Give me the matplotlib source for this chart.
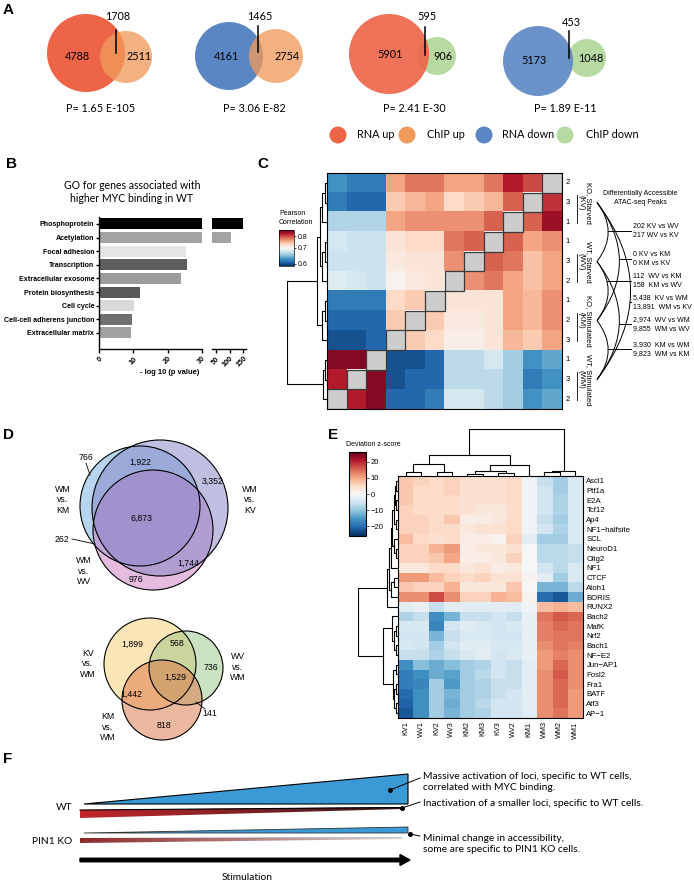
import matplotlib
matplotlib.use('Agg')
import matplotlib.pyplot as plt
import numpy as np
from matplotlib.patches import Circle, Polygon, Rectangle, PathPatch, FancyArrow
from matplotlib.path import Path
from matplotlib.colors import TwoSlopeNorm, Normalize, LinearSegmentedColormap
from matplotlib.cm import ScalarMappable

W, H = 694, 882
CAL = ['Lato', 'DejaVu Sans']
ARI = ['Liberation Sans', 'DejaVu Sans']
NAR = ['Liberation Sans Narrow', 'Liberation Sans', 'DejaVu Sans']
nan = np.nan

# ---------------- A: RNA-seq / ChIP-seq overlaps ----------------
venn_a_left = [4788, 4161, 5901, 5173]
venn_a_right = [2511, 2754, 906, 1048]
venn_a_both = [1708, 1465, 595, 453]
venn_a_pval = ['P= 1.65 E-105', 'P= 3.06 E-82', 'P= 2.41 E-30', 'P= 1.89 E-11']
venn_a_sets = [('RNA up', 'ChIP up'), ('RNA down', 'ChIP up'),
               ('RNA up', 'ChIP down'), ('RNA down', 'ChIP down')]
legend_a = ['RNA up', 'ChIP up', 'RNA down', 'ChIP down']
colors_a = {'RNA up': '#EE6446', 'ChIP up': '#F09A5C',
            'RNA down': '#5B86C4', 'ChIP down': '#B7D9A2'}

# ---------------- B: GO terms ----------------
go_terms = ['Phosphoprotein', 'Acetylation', 'Focal adhesion', 'Transcription',
            'Extracellular exosome', 'Protein biosynthesis', 'Cell cycle',
            'Cell-cell adherens junction', 'Extracellular matrix']
go_logp = [150, 105, 25.4, 25.6, 24.0, 11.8, 10.2, 9.7, 9.4]
go_colors = ['#000000', '#A3A3A3', '#E6E6E6', '#5E5E5E', '#9C9C9C',
             '#5A5A5A', '#D9D9D9', '#707070', '#A0A0A0']

# ---------------- C: Pearson correlation ----------------
c_rows = ['KV2', 'KV3', 'KV1', 'WV1', 'WV3', 'WV2', 'KM1', 'KM2', 'KM3', 'WM1', 'WM3', 'WM2']
c_row_num = ['2', '3', '1', '1', '3', '2', '1', '2', '3', '1', '3', '2']
c_groups = ['KO, Starved\n(KV)', 'WT, Starved\n(WV)', 'KO, Stimulated\n(KM)', 'WT, Stimulated\n(WM)']
c_corr = [
    [0.63, 0.62, 0.62, 0.76, 0.78, 0.78, 0.76, 0.76, 0.78, 0.82, 0.80, nan],
    [0.62, 0.61, 0.61, 0.74, 0.75, 0.76, 0.73, 0.74, 0.75, 0.79, nan, 0.81],
    [0.665, 0.665, 0.665, 0.76, 0.77, 0.77, 0.77, 0.77, 0.79, nan, 0.79, 0.83],
    [0.68, 0.675, 0.675, 0.72, 0.73, 0.73, 0.78, 0.79, nan, 0.79, 0.76, 0.77],
    [0.675, 0.675, 0.675, 0.715, 0.72, 0.72, 0.77, nan, 0.79, 0.78, 0.745, 0.76],
    [0.685, 0.68, 0.675, 0.705, 0.715, 0.72, nan, 0.77, 0.78, 0.76, 0.745, 0.76],
    [0.62, 0.62, 0.62, 0.73, 0.74, nan, 0.72, 0.72, 0.72, 0.76, 0.75, 0.77],
    [0.61, 0.61, 0.61, 0.74, nan, 0.74, 0.715, 0.715, 0.72, 0.76, 0.75, 0.77],
    [0.60, 0.60, 0.61, nan, 0.74, 0.73, 0.71, 0.71, 0.72, 0.75, 0.74, 0.76],
    [0.84, 0.84, nan, 0.60, 0.60, 0.61, 0.67, 0.67, 0.68, 0.66, 0.63, 0.64],
    [0.82, nan, 0.84, 0.60, 0.61, 0.61, 0.67, 0.67, 0.67, 0.66, 0.62, 0.63],
    [nan, 0.82, 0.84, 0.61, 0.61, 0.62, 0.68, 0.68, 0.67, 0.66, 0.63, 0.64],
]
# (child a, child b, height) ; new node ids start after the leaves
c_row_merges = [(0, 1, 0.05), (12, 2, 0.12), (3, 4, 0.05), (14, 5, 0.12), (13, 15, 0.18),
                (6, 7, 0.05), (17, 8, 0.12), (16, 18, 0.25), (9, 10, 0.05), (20, 11, 0.1),
                (19, 21, 1.0)]
c_pairs = [(0, 1), (0, 2), (1, 2), (0, 3), (1, 3), (2, 3)]
c_pair_text = [('202 KV vs WV', '217 WV vs KV'), ('0 KV vs KM', '0 KM vs KV'),
               ('112  WV vs KM', '158  KM vs WV'), ('5,438  KV vs WM', '13,891  WM vs KV'),
               ('2,974  WV vs WM', '9,855  WM vs WV'), ('3,930  KM vs WM', '9,823  WM vs KM')]

# ---------------- D: Venn of differential peaks ----------------
d_top_sets = ['WM\nvs.\nKV', 'WM\nvs.\nKM', 'WM\nvs.\nWV']
d_top_counts = ['766', '1,922', '3,352', '6,873', '262', '1,744', '976']
d_bot_sets = ['KV\nvs.\nWM', 'WV\nvs.\nWM', 'KM\nvs.\nWM']
d_bot_counts = ['1,899', '568', '736', '1,529', '1,442', '141', '818']

# ---------------- E: chromVAR deviation z-scores ----------------
e_cols = ['KV1', 'WV1', 'KV2', 'WV3', 'KM2', 'KM3', 'KV3', 'WV2', 'KM1', 'WM3', 'WM2', 'WM1']
e_rows = ['Ascl1', 'Ptf1a', 'E2A', 'Tcf12', 'Ap4', 'NF1\u2212halfsite', 'SCL', 'NeuroD1',
          'Olig2', 'NF1', 'CTCF', 'Atoh1', 'BORIS', 'RUNX2', 'Bach2', 'MafK', 'Nrf2',
          'Bach1', 'NF\u2212E2', 'Jun\u2212AP1', 'Fosl2', 'Fra1', 'BATF', 'Atf3', 'AP\u22121']
e_z = [
    [7, 6, 5, 6, 4, 4, 4, 5, -1, -6, -9, -4],
    [7, 5, 5, 6, 4, 4, 4, 5, -1, -5, -9, -4],
    [7, 5, 5, 5, 4, 4, 4, 5, -1, -5, -8, -4],
    [6, 5, 5, 5, 4, 3, 3, 5, -1, -5, -8, -4],
    [6, 6, 5, 7, 2, 2, 3, 5, -1, -6, -9, -4],
    [6, 6, 5, 5, 3, 4, 4, 5, -1, -5, -8, -4],
    [8, 5, 4, 5, 2, 2, 1, 6, -3, -9, -9, -4],
    [6, 6, 9, 11, 2, 3, 3, 4, 0, -7, -7, -6],
    [6, 6, 7, 10, 2, 2, 3, 6, 0, -7, -7, -6],
    [3, 3, 5, 5, 3, 4, 2, 3, 0, -5, -7, -4],
    [11, 11, 8, 6, 5, 6, 4, 4, 1, -3, -9, -4],
    [7, 6, 6, 9, 3, 3, 3, 7, 0, -12, -12, -7],
    [12, 12, 17, 12, 6, 6, 9, 8, 1, -20, -22, -13],
    [-3, -2, -6, -3, -3, -3, -3, -3, -1, 8, 9, 8],
    [-8, -6, -16, -12, -6, -6, -5, -6, -2, 14, 16, 15],
    [-4, -4, -17, -5, -3, -4, -5, -4, -2, 13, 15, 14],
    [-5, -5, -12, -6, -4, -4, -5, -5, -2, 13, 14, 14],
    [-4, -5, -9, -5, -3, -3, -4, -4, -2, 12, 14, 13],
    [-6, -6, -8, -6, -4, -3, -5, -4, -2, 11, 13, 12],
    [-16, -11, -13, -11, -9, -8, -5, -6, -3, 11, 15, 12],
    [-18, -16, -13, -14, -9, -7, -5, -6, -3, 12, 16, 12],
    [-18, -17, -9, -15, -9, -8, -6, -6, -3, 12, 15, 12],
    [-20, -16, -9, -12, -9, -8, -6, -5, -3, 12, 15, 11],
    [-21, -16, -9, -13, -9, -7, -5, -5, -3, 12, 15, 11],
    [-22, -16, -9, -12, -9, -8, -5, -5, -3, 12, 14, 11],
]
e_col_merges = [(0, 1, 0.08), (2, 3, 0.09), (12, 13, 0.26), (4, 5, 0.05), (6, 7, 0.07),
                (15, 16, 0.11), (17, 8, 0.23), (14, 18, 0.45), (9, 10, 0.08), (20, 11, 0.11),
                (19, 21, 1.0)]
e_row_merges = [(0, 1, 0.04), (2, 3, 0.05), (25, 26, 0.08), (4, 5, 0.05), (27, 28, 0.11),
                (7, 8, 0.05), (6, 30, 0.09), (29, 31, 0.14), (32, 9, 0.17), (10, 11, 0.1),
                (34, 12, 0.18), (33, 35, 0.22), (36, 13, 0.28), (15, 16, 0.05), (17, 18, 0.06),
                (38, 39, 0.1), (14, 40, 0.16), (19, 20, 0.05), (21, 22, 0.05), (23, 24, 0.04),
                (43, 44, 0.09), (42, 45, 0.13), (41, 46, 0.38), (37, 47, 1.0)]

# ---------------- F: model text ----------------
f_notes = ['Massive activation of loci, specific to WT cells,\ncorrelated with MYC binding.',
           'Inactivation of a smaller loci, specific to WT cells.',
           'Minimal change in accessibility,\nsome are specific to PIN1 KO cells.']


fig = plt.figure(figsize=(W / 100, H / 100), dpi=100)
ov = fig.add_axes([0, 0, 1, 1])
ov.set_xlim(0, W)
ov.set_ylim(H, 0)
ov.axis('off')


def px_ax(x0, y0, x1, y1):
    return fig.add_axes([x0 / W, 1 - y1 / H, (x1 - x0) / W, (y1 - y0) / H])


def dendro(ax, merges, n, side):
    pos = {i: float(i) for i in range(n)}
    hgt = {i: 0.0 for i in range(n)}
    for k, (a, b, h) in enumerate(merges):
        pos[n + k] = (pos[a] + pos[b]) / 2
        hgt[n + k] = h
        xs = [pos[a], pos[a], pos[b], pos[b]]
        ys = [hgt[a], h, h, hgt[b]]
        if side == 'top':
            ax.plot(xs, ys, color='k', lw=0.8)
        else:
            ax.plot(ys, xs, color='k', lw=0.8)
    ax.axis('off')


for lab, x, y in [('A', 3, 3), ('B', 6, 157), ('C', 257, 157), ('D', 3, 428),
                  ('E', 328, 428), ('F', 3, 752)]:
    ov.text(x, y, lab, fontsize=11, fontweight='bold', family=ARI, va='top', ha='left')

# ---------------- A ----------------
a_geo = [((86, 53), 39, (126, 57), 26, 116, 30, 53, 17),
         ((229, 56), 34, (276, 56), 27, 258, 26, 52, 17),
         ((389, 54), 40, (437, 56), 19, 425, 27, 55, 17),
         ((538, 61), 35, (587, 58), 19, 569, 31, 58, 22)]
a_num_pos = [((77, 56), (139, 57)), ((226, 57), (287, 57)),
             ((390, 55), (443, 56)), ((534, 61), (591, 58))]
a_p_x = [101, 254, 414, 565]
for i, (cl, rl, cr, rr, lx, ly0, ly1, ty) in enumerate(a_geo):
    left, right = venn_a_sets[i]
    if i < 2:
        ov.add_patch(Circle(cl, rl, color=colors_a[left], lw=0))
        ov.add_patch(Circle(cr, rr, color=colors_a[right], alpha=0.78, lw=0))
    else:
        ov.add_patch(Circle(cr, rr, color=colors_a[right], lw=0))
        ov.add_patch(Circle(cl, rl, color=colors_a[left], alpha=0.9, lw=0))
    ov.plot([lx, lx], [ly0, ly1], color='k', lw=1.1)
    ov.text(lx + 2, ty, str(venn_a_both[i]), fontsize=7.8, family=CAL, ha='center', va='center')
    ov.text(*a_num_pos[i][0], str(venn_a_left[i]), fontsize=7.8, family=CAL, ha='center', va='center')
    ov.text(*a_num_pos[i][1], str(venn_a_right[i]), fontsize=7.8, family=CAL, ha='center', va='center')
    ov.text(a_p_x[i], 108, venn_a_pval[i], fontsize=7.8, family=CAL, ha='center', va='center')
for name, dx, tx in zip(legend_a, [338, 407, 484, 565], [357, 427, 502, 586]):
    ov.add_patch(Circle((dx, 135), 8.5, color=colors_a[name], lw=0))
    ov.text(tx, 135, name, fontsize=7.8, family=CAL, ha='left', va='center')

# ---------------- B ----------------
ov.text(132, 192, 'GO for genes associated with\nhigher MYC binding in WT', fontsize=7.6,
        family=CAL, ha='center', va='center', linespacing=1.25)
ypos = np.arange(len(go_terms))
for k, (x0, x1, lim, ticks) in enumerate([(99, 202, (0, 30), [0, 10, 20, 30]),
                                          (212, 246, (35, 160), [50, 100, 150])]):
    ax = px_ax(x0, 217, x1, 349)
    ax.barh(ypos, go_logp, height=0.8, color=go_colors)
    ax.set_xlim(*lim)
    ax.set_ylim(len(go_terms) - 1 + 1.18, -0.51)
    ax.spines[['top', 'right']].set_visible(False)
    ax.set_xticks(ticks)
    ax.set_xticklabels([str(t) for t in ticks], rotation=45, ha='right', va='top',
                       rotation_mode='anchor', fontsize=5.2, fontweight='bold', family=ARI)
    ax.tick_params(axis='x', length=3, width=1, pad=1.5)
    ax.spines['bottom'].set_linewidth(1)
    if k == 0:
        ax.set_yticks(ypos)
        ax.set_yticklabels(go_terms, fontsize=5.1, fontweight='bold', family=NAR)
        ax.tick_params(axis='y', length=2.5, width=1, pad=1)
        ax.spines['left'].set_linewidth(1)
    else:
        ax.spines['left'].set_visible(False)
        ax.set_yticks([])
ov.text(170, 372, '- log 10 (p value)', fontsize=5.4, fontweight='bold', family=NAR,
        ha='center', va='center')

# ---------------- C ----------------
corr = np.array(c_corr, dtype=float)
nC = len(c_rows)
normC = TwoSlopeNorm(vmin=0.585, vcenter=0.7, vmax=0.852)
axc = px_ax(327, 173, 562, 409)
axc.imshow(np.ma.masked_invalid(corr), cmap='RdBu_r', norm=normC, aspect='auto',
           extent=(-0.5, nC - 0.5, nC - 0.5, -0.5), interpolation='nearest')
for r in range(nC):
    c = int(np.where(np.isnan(corr[r]))[0][0])
    axc.add_patch(Rectangle((c - 0.5, r - 0.5), 1, 1, facecolor='#CDCDCD',
                            edgecolor='#3A3A3A', lw=0.9))
axc.set_xticks([])
axc.set_yticks([])
for s in axc.spines.values():
    s.set_linewidth(0.8)
axd = px_ax(287, 173, 327, 409)
dendro(axd, c_row_merges, nC, 'left')
axd.set_ylim(nC - 0.5, -0.5)
axd.set_xlim(1.0, 0)
cell = (409 - 173) / nC
for r in range(nC):
    ov.text(568, 173 + (r + 0.5) * cell, c_row_num[r], fontsize=5.5, family=ARI,
            ha='center', va='center')
grp_y = [173 + (3 * g + 1.5) * cell for g in range(4)]
for g, lab in enumerate(c_groups):
    ov.text(585, grp_y[g], lab, fontsize=5.5, family=NAR, rotation=270,
            ha='center', va='center', linespacing=1.0)
    ov.plot([577, 577], [grp_y[g] - 8, grp_y[g] + 20], color='k', lw=0.6)
cax = px_ax(279, 230, 294, 266)
cb = fig.colorbar(ScalarMappable(norm=normC, cmap='RdBu_r'), cax=cax, ticks=[0.6, 0.7, 0.8])
cb.ax.set_yticklabels(['0.6', '0.7', '0.8'], fontsize=5, family=ARI)
cb.ax.tick_params(length=1.5, width=0.5, pad=1)
cb.outline.set_linewidth(0.5)
ov.text(279, 218, 'Pearson\nCorrelation', fontsize=5, family=NAR, ha='left', va='center',
        linespacing=1.3)
ov.text(640, 198, 'Differentially Accessible\nATAC-seq Peaks', fontsize=5, family=NAR,
        ha='center', va='center', linespacing=1.3)
arc_x0 = 597
lab_y = [227, 255, 277, 298, 320, 345]
for (ga, gb), (t1, t2), ly in zip(c_pairs, c_pair_text, lab_y):
    ya, yb = grp_y[ga], grp_y[gb]
    b = 0.19 * (yb - ya)
    path = Path([(arc_x0, ya), (arc_x0 + 2 * b, (ya + yb) / 2), (arc_x0, yb)],
                [Path.MOVETO, Path.CURVE3, Path.CURVE3])
    ov.add_patch(PathPatch(path, facecolor='none', edgecolor='k', lw=0.7))
    yl = ly + 4
    t = (yl - ya) / (yb - ya)
    xa = arc_x0 + 4 * b * t * (1 - t)
    ov.plot([xa, 631], [yl, yl], color='k', lw=0.7)
    ov.text(633, ly, t1, fontsize=5, family=NAR, ha='left', va='center')
    ov.text(633, ly + 8.5, t2, fontsize=5, family=NAR, ha='left', va='center')

# ---------------- D ----------------
# drawing order: WM vs KM, WM vs WV, WM vs KV
top_circ = [((140, 506), 60, (0.44, 0.68, 0.88, 0.5)),
            ((153, 530), 60, (0.80, 0.48, 0.76, 0.5)),
            ((160, 508), 68, (0.50, 0.50, 0.77, 0.5))]
for c, r, fc in top_circ:
    ov.add_patch(Circle(c, r, facecolor=fc, edgecolor='none'))
for c, r, fc in top_circ:
    ov.add_patch(Circle(c, r, facecolor='none', edgecolor='k', lw=0.8))
for lab, (x, y) in zip(d_top_sets, [(250, 500), (63, 500), (84, 571)]):
    ov.text(x, y, lab, fontsize=6.3, family=ARI, ha='center', va='center', linespacing=1.25)
for lab, (x, y) in zip(d_top_counts, [(86, 457), (140, 462), (213, 481), (142, 518),
                                      (62, 539), (188, 563), (136, 580)]):
    ov.text(x, y, lab, fontsize=6.3, family=ARI, ha='center', va='center')
ov.plot([86, 90], [463, 475], color='k', lw=0.6)
ov.plot([72, 95], [539, 544], color='k', lw=0.6)

bot_circ = [((150, 664), 46, (0.98, 0.80, 0.44, 0.5)),
            ((186, 668), 37, (0.60, 0.78, 0.53, 0.5)),
            ((162, 700), 40, (0.86, 0.45, 0.26, 0.5))]
for c, r, fc in bot_circ:
    ov.add_patch(Circle(c, r, facecolor=fc, edgecolor='none'))
for c, r, fc in bot_circ:
    ov.add_patch(Circle(c, r, facecolor='none', edgecolor='k', lw=0.8))
for lab, (x, y) in zip(d_bot_sets, [(88, 664), (238, 667), (108, 727)]):
    ov.text(x, y, lab, fontsize=6.3, family=ARI, ha='center', va='center', linespacing=1.25)
for lab, (x, y) in zip(d_bot_counts, [(132, 644), (177, 644), (211, 667), (175, 677),
                                      (131, 694), (210, 713), (164, 726)]):
    ov.text(x, y, lab, fontsize=6.3, family=ARI, ha='center', va='center')
ov.plot([196, 205], [702, 709], color='k', lw=0.6)

# ---------------- E ----------------
z = np.array(e_z, dtype=float)
nr, nc = z.shape
normE = Normalize(vmin=-26, vmax=26)
axe = px_ax(398, 476, 583, 718)
axe.imshow(z, cmap='RdBu_r', norm=normE, aspect='auto', interpolation='nearest',
           extent=(-0.5, nc - 0.5, nr - 0.5, -0.5))
axe.set_xticks(range(nc))
axe.set_xticklabels(e_cols, rotation=90, fontsize=5.2, family=ARI)
axe.yaxis.tick_right()
axe.set_yticks(range(nr))
axe.set_yticklabels(e_rows, fontsize=5.6, family=ARI)
axe.tick_params(length=0, pad=2.5)
for s in axe.spines.values():
    s.set_linewidth(0.8)
axt = px_ax(398, 429, 583, 476)
dendro(axt, e_col_merges, nc, 'top')
axt.set_xlim(-0.5, nc - 0.5)
axt.set_ylim(0, 1.0)
axl = px_ax(358, 476, 398, 718)
dendro(axl, e_row_merges, nr, 'left')
axl.set_ylim(nr - 0.5, -0.5)
axl.set_xlim(1.0, 0)
cax2 = px_ax(349, 452, 366, 536)
cb2 = fig.colorbar(ScalarMappable(norm=normE, cmap='RdBu_r'), cax=cax2,
                   ticks=[20, 10, 0, -10, -20])
cb2.ax.set_yticklabels(['20', '10', '0', '\u221210', '\u221220'], fontsize=5.5, family=ARI)
cb2.ax.tick_params(length=2, width=0.5, pad=1.5)
cb2.outline.set_linewidth(0.8)
ov.text(346, 445, 'Deviation z-score', fontsize=5, family=NAR, ha='left', va='center')

# ---------------- F ----------------
def grad_poly(pts, c0, c1):
    poly = Polygon(pts, closed=True, facecolor='none', edgecolor='none')
    ov.add_patch(poly)
    xs = [p[0] for p in pts]
    ys = [p[1] for p in pts]
    cm = LinearSegmentedColormap.from_list('g', [c0, c1])
    im = ov.imshow(np.linspace(0, 1, 256)[None, :], cmap=cm, aspect='auto',
                   extent=(min(xs), max(xs), max(ys), min(ys)), zorder=2)
    im.set_clip_path(poly)


ov.add_patch(Polygon([(84, 804), (408, 774), (408, 804)], closed=True,
                     facecolor='#3A9AD6', edgecolor='k', lw=0.8, zorder=3))
grad_poly([(80, 810), (402, 807), (402, 809), (80, 818)], '#C4262B', '#3A1A1A')
ov.plot([80, 402], [810, 807.5], color='k', lw=0.8, zorder=4)
ov.add_patch(Polygon([(84, 833), (408, 827), (408, 833)], closed=True,
                     facecolor='#3A9AD6', edgecolor='#333333', lw=0.6, zorder=3))
grad_poly([(80, 838), (402, 837), (402, 839), (80, 843)], '#8E2A2A', '#D2D2D2')
ov.add_patch(FancyArrow(80, 860, 330, 0, width=3.5, head_width=11, head_length=10,
                        length_includes_head=True, color='k', zorder=3))
ov.text(247, 877, 'Stimulation', fontsize=7.4, family=CAL, ha='center', va='center')
ov.text(72, 808, 'WT', fontsize=7.4, family=CAL, ha='right', va='center')
ov.text(72, 841, 'PIN1 KO', fontsize=7.4, family=CAL, ha='right', va='center')
for (dx, dy), (lx, ly), note, ty in zip([(390, 790), (402, 808), (410, 834)],
                                        [(420, 778), (420, 802), (420, 836)],
                                        f_notes, [782, 803, 844]):
    ov.plot([dx], [dy], 'o', color='k', ms=2.6, zorder=5)
    ov.plot([dx, lx], [dy, ly], color='k', lw=0.7, zorder=5)
    ov.text(423, ty, note, fontsize=7.4, family=CAL, ha='left', va='center', linespacing=1.3)

ov.set_xlim(0, W)
ov.set_ylim(H, 0)
fig.savefig('out.png', dpi=100)
